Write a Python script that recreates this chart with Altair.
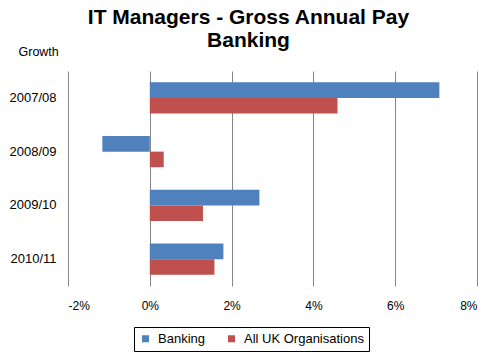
import altair as alt
import pandas as pd

years = ["2007/08", "2008/09", "2009/10", "2010/11"]
banking = [7.08, -1.16, 2.68, 1.80]
all_uk = [4.59, 0.34, 1.30, 1.58]
series = ["Banking", "All UK Organisations"]
colors = ["#4F81BD", "#C0504D"]
x_ticks = [-2, 0, 2, 4, 6, 8]

rows = []
for i, y in enumerate(years):
    rows.append({"year": y, "series": series[0], "value": banking[i]})
    rows.append({"year": y, "series": series[1], "value": all_uk[i]})
df = pd.DataFrame(rows)

chart = alt.Chart(df).mark_bar().encode(
    x=alt.X("value:Q",
            scale=alt.Scale(domain=[-2, 8], nice=False, zero=False),
            axis=alt.Axis(values=x_ticks, labelExpr="datum.value + '%'",
                          title=None, domain=False, ticks=False,
                          grid=True, gridColor="#868686", gridWidth=1,
                          labelPadding=14, labelFontSize=12, labelColor="#000000")),
    y=alt.Y("year:N", sort=years,
            scale=alt.Scale(paddingInner=0.42, paddingOuter=0.21),
            axis=alt.Axis(title="Growth", titleAngle=0, titleAlign="left",
                          titleBaseline="alphabetic", titleX=-50, titleY=-16,
                          titleFontWeight="normal", titleFontSize=12.5, titleColor="#000000",
                          domain=False, ticks=False, grid=False,
                          labelPadding=12, labelFontSize=13, labelColor="#000000")),
    yOffset=alt.YOffset("series:N", sort=series),
    color=alt.Color("series:N", sort=series,
                    scale=alt.Scale(domain=series, range=colors),
                    legend=alt.Legend(title=None, orient="none", direction="horizontal",
                                      legendX=66, legendY=256,
                                      strokeColor="#000000", padding=5,
                                      symbolType="square", symbolSize=49,
                                      symbolStrokeWidth=0, labelFontSize=13,
                                      labelColor="#000000", columnPadding=20,
                                      labelOffset=6)),
).properties(
    width=409, height=215,
    title=alt.TitleParams(["IT Managers - Gross Annual Pay", "Banking"],
                          fontSize=21, fontWeight="bold", color="#000000",
                          anchor="middle", dx=-24, offset=18, dy=24, lineHeight=23),
    autosize=alt.AutoSizeParams(type="none"),
    padding={"left": 68, "top": 71, "right": 20, "bottom": 68},
).configure(
    font="Liberation Sans"
).configure_view(stroke=None)

chart.save("out.html", embed_options={"renderer": "svg", "actions": False})
